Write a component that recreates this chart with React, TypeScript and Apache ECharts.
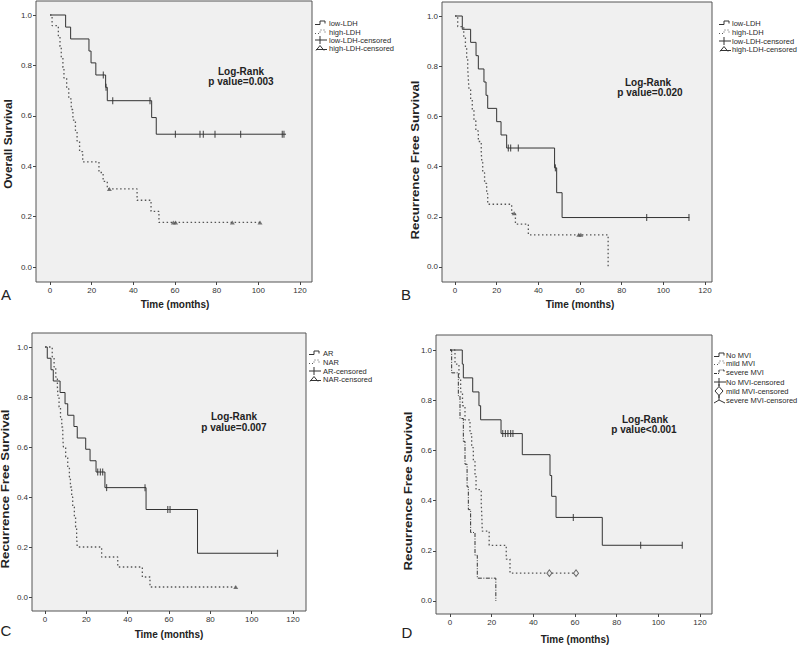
import React, { useEffect, useRef } from 'react';
import * as echarts from 'echarts';

const xTicks = [0, 20, 40, 60, 80, 100, 120];
const yTicks = [0, 0.2, 0.4, 0.6, 0.8, 1.0];

// Panel A – Overall survival by LDH
const aLowTime = [0, 7.5, 9.9, 18.7, 19.7, 22.0, 26.7, 27.5, 48.8, 51.0, 113.3];
const aLowSurv = [1, 0.952, 0.905, 0.857, 0.81, 0.762, 0.713, 0.66, 0.593, 0.527, 0.527];
const aLowCens = [25.6, 26.9, 30.1, 48.0, 60.2, 72.0, 73.6, 79.2, 91.5, 111.5, 112.3];
const aHighTime = [0, 1.0, 4.0, 4.8, 5.4, 6.2, 6.7, 8.0, 9.0, 10.2, 11.0, 12.2, 13.0, 14.2, 15.7, 23.5, 25.5, 27.5, 41.8, 48.5, 52.3, 100.8];
const aHighSurv = [1, 0.958, 0.917, 0.875, 0.833, 0.792, 0.75, 0.708, 0.667, 0.625, 0.583, 0.542, 0.5, 0.458, 0.417, 0.375, 0.34, 0.31, 0.265, 0.221, 0.177, 0.177];
const aHighCens = [28.5, 59.2, 60.3, 87.5, 100.8];

// Panel B – Recurrence free survival by LDH
const bLowTime = [0, 3.5, 7.5, 10.1, 11.2, 13.9, 14.9, 15.7, 20.0, 22.1, 24.8, 47.8, 48.8, 51.4, 112.5];
const bLowSurv = [1, 0.947, 0.895, 0.842, 0.789, 0.737, 0.684, 0.632, 0.579, 0.526, 0.474, 0.395, 0.296, 0.197, 0.197];
const bLowCens = [25.6, 26.7, 30.4, 48.2, 92.0, 112.3];
const bHighTime = [0, 1.3, 4.2, 5.0, 5.6, 6.1, 6.4, 6.7, 7.5, 8.3, 9.1, 10.0, 11.2, 12.6, 12.9, 13.3, 14.2, 15.2, 15.7, 27.2, 29.0, 35.2, 73.5];
const bHighSurv = [1, 0.958, 0.917, 0.875, 0.833, 0.792, 0.75, 0.708, 0.667, 0.625, 0.583, 0.542, 0.5, 0.458, 0.417, 0.375, 0.333, 0.292, 0.25, 0.214, 0.171, 0.128, 0];
const bHighCens = [28.4, 59.4, 60.4];

// Panel C – Recurrence free survival by AR / NAR
const cArTime = [0, 1.1, 2.9, 4.0, 7.3, 9.7, 11.0, 14.0, 15.6, 19.7, 21.8, 24.7, 29.0, 48.9, 73.8, 112.5];
const cArSurv = [1, 0.955, 0.909, 0.864, 0.818, 0.773, 0.727, 0.682, 0.636, 0.591, 0.545, 0.5, 0.4375, 0.35, 0.175, 0.175];
const cArCens = [25.5, 26.8, 27.9, 29.8, 48.4, 59.4, 60.5, 112.5];
const cNarTime = [0, 3.5, 4.4, 5.2, 6.0, 6.3, 6.8, 7.5, 8.1, 8.6, 8.9, 10.0, 11.0, 11.8, 12.3, 12.9, 13.4, 14.2, 14.8, 15.3, 15.6, 27.4, 35.2, 47.1, 50.8, 92.3];
const cNarSurv = [1, 0.96, 0.92, 0.88, 0.84, 0.8, 0.76, 0.72, 0.68, 0.64, 0.6, 0.56, 0.52, 0.48, 0.44, 0.4, 0.36, 0.32, 0.28, 0.24, 0.2, 0.16, 0.12, 0.08, 0.04, 0.04];
const cNarCens = [92.3];

// Panel D – Recurrence free survival by MVI
const dNoTime = [0, 5.9, 6.4, 10.9, 13.9, 14.7, 24.5, 34.7, 48.0, 48.8, 50.9, 73.1, 111.5];
const dNoSurv = [1, 0.944, 0.889, 0.833, 0.778, 0.722, 0.667, 0.583, 0.5, 0.417, 0.333, 0.222, 0.222];
const dNoCens = [25.3, 26.6, 27.8, 29.1, 30.2, 59.2, 91.5, 111.5];
const dMildTime = [0, 2.4, 4.3, 5.1, 6.0, 7.2, 9.6, 10.4, 11.2, 12.0, 12.5, 15.0, 15.3, 15.5, 18.8, 27.0, 28.8, 60.5];
const dMildSurv = [1, 0.944, 0.889, 0.833, 0.778, 0.722, 0.667, 0.611, 0.556, 0.5, 0.444, 0.389, 0.333, 0.278, 0.222, 0.167, 0.111, 0.111];
const dMildCens = [47.7, 60.5];
const dSevTime = [0, 0.8, 4.0, 4.8, 6.4, 7.2, 8.2, 8.8, 9.9, 12.0, 13.1, 22.0];
const dSevSurv = [1, 0.909, 0.818, 0.727, 0.636, 0.545, 0.455, 0.364, 0.273, 0.182, 0.091, 0];

const legendA = ['low-LDH', 'high-LDH', 'low-LDH-censored', 'high-LDH-censored'];
const legendC = ['AR', 'NAR', 'AR-censored', 'NAR-censored'];
const legendD = ['No MVI', 'mild MVI', 'severe MVI', 'No MVI-censored', 'mild MVI-censored', 'severe MVI-censored'];
const pValues = ['p value=0.003', 'p value=0.020', 'p value=0.007', 'p value<0.001'];
const yTitles = ['Overall Survival', 'Recurrence Free Survival', 'Recurrence Free Survival', 'Recurrence Free Survival'];
const letters = ['A', 'B', 'C', 'D'];

const FONT = '"Liberation Sans", Arial, Helvetica, sans-serif';
const DARK = '#333';
const DOT = '#555';

function pairs(t: number[], s: number[]) {
  return t.map((v, i) => [v, s[i]]);
}
function survAt(t: number[], s: number[], x: number) {
  let v = s[0];
  for (let i = 0; i < t.length; i++) if (t[i] <= x) v = s[i];
  return v;
}
function censorPts(t: number[], s: number[], c: number[]) {
  return c.map((x) => [x, survAt(t, s, x)]);
}

const panels = [
  { grid: { left: 36, top: 1, width: 276, height: 281 }, x: [-6.72, 125.76], y: [-0.0595, 1.0556] },
  { grid: { left: 442, top: 2, width: 270, height: 280 }, x: [-6.24, 123.36], y: [-0.0598, 1.0558] },
  { grid: { left: 32, top: 333, width: 274, height: 278 }, x: [-6.29, 126.29], y: [-0.056, 1.056] },
  { grid: { left: 436, top: 335, width: 276, height: 279 }, x: [-6.72, 125.76], y: [-0.0518, 1.0598] },
];

function kmLine(gi: number, t: number[], s: number[], color: string, type: any, width = 1) {
  return {
    type: 'line', xAxisIndex: gi, yAxisIndex: gi, data: pairs(t, s), step: 'end',
    showSymbol: false, symbol: 'none', silent: true,
    lineStyle: { color, width, type },
  };
}
function censors(gi: number, pts: number[][], kind: string) {
  const base: any = { type: 'scatter', xAxisIndex: gi, yAxisIndex: gi, data: pts, silent: true, z: 5 };
  if (kind === 'plus') return { ...base, symbol: 'rect', symbolSize: [1.2, 7], itemStyle: { color: DARK } };
  if (kind === 'tri') return { ...base, symbol: 'triangle', symbolSize: [5, 4], itemStyle: { color: DOT } };
  return { ...base, symbol: 'diamond', symbolSize: [5, 6.5], itemStyle: { color: '#f0f0f0', borderColor: '#444', borderWidth: 1 } };
}

function glyph(kind: string, x0: number, y: number): any[] {
  const st = (dash?: number[]) => ({ stroke: DARK, fill: 'none', lineWidth: 1, lineDash: dash });
  const step = [[x0, y + 1.5], [x0 + 5, y + 1.5], [x0 + 5, y - 2], [x0 + 10, y - 2], [x0 + 10, y + 0.5]];
  if (kind === 'solid') return [{ type: 'polyline', shape: { points: step }, style: st() }];
  if (kind === 'dot') return [{ type: 'polyline', shape: { points: step }, style: { ...st([1, 2]), stroke: DOT } }];
  if (kind === 'dashdot') return [{ type: 'polyline', shape: { points: step }, style: st([3, 1, 1, 1]) }];
  if (kind === 'plus') return [
    { type: 'line', shape: { x1: x0, y1: y, x2: x0 + 12, y2: y }, style: st() },
    { type: 'line', shape: { x1: x0 + 5, y1: y - 4, x2: x0 + 5, y2: y + 4 }, style: st() },
  ];
  if (kind === 'tri') return [
    { type: 'line', shape: { x1: x0 + 1, y1: y + 1.5, x2: x0 + 12, y2: y + 1.5 }, style: st() },
    { type: 'polyline', shape: { points: [[x0 + 1, y + 2.5], [x0 + 5, y - 2.5], [x0 + 9, y + 2.5]] }, style: st() },
  ];
  if (kind === 'diamond') return [
    { type: 'polygon', shape: { points: [[x0 + 5, y - 4.5], [x0 + 9, y], [x0 + 5, y + 4.5], [x0 + 1, y]] }, style: st() },
    { type: 'line', shape: { x1: x0 + 5, y1: y - 7, x2: x0 + 5, y2: y - 4.5 }, style: st() },
    { type: 'line', shape: { x1: x0 + 5, y1: y + 4.5, x2: x0 + 5, y2: y + 7 }, style: st() },
  ];
  // inverted Y
  return [
    { type: 'line', shape: { x1: x0 + 5, y1: y - 5, x2: x0 + 5, y2: y }, style: st() },
    { type: 'polyline', shape: { points: [[x0, y + 3], [x0 + 5, y], [x0 + 11, y + 3]] }, style: st() },
  ];
}

function legend(labels: string[], kinds: string[], x0: number, tx: number, rows: number[]): any[] {
  const out: any[] = [];
  labels.forEach((lab, i) => {
    out.push(...glyph(kinds[i], x0, rows[i]));
    out.push({
      type: 'text', x: tx, y: rows[i],
      style: { text: lab, fill: '#2a2a2a', fontSize: 7.5, fontFamily: FONT, align: 'left', verticalAlign: 'middle' },
    });
  });
  return out;
}

function text(t: string, x: number, y: number, size: number, bold: boolean, extra: any = {}) {
  return {
    type: 'text', x, y, ...extra,
    style: { text: t, fill: '#222', fontSize: size, fontWeight: bold ? 'bold' : 'normal', fontFamily: FONT, align: 'center', verticalAlign: 'middle' },
  };
}

export default function App() {
  const ref = useRef<HTMLDivElement>(null);
  useEffect(() => {
    if (!ref.current) return;
    const chart = echarts.init(ref.current, undefined, { renderer: 'svg' });
    const grids = panels.map((p) => ({
      ...p.grid, show: true, backgroundColor: '#f0f0f0', borderColor: '#555', borderWidth: 1, containLabel: false,
    }));
    const xAxis = panels.map((p, i) => ({
      type: 'value', gridIndex: i, min: p.x[0], max: p.x[1],
      axisLine: { show: false, onZero: false }, splitLine: { show: false },
      axisTick: { show: true, inside: false, customValues: xTicks, length: 3, lineStyle: { color: '#444' } },
      axisLabel: { customValues: xTicks, fontSize: 8, color: DARK, margin: 4, fontFamily: FONT },
    }));
    const yAxis = panels.map((p, i) => ({
      type: 'value', gridIndex: i, min: p.y[0], max: p.y[1],
      axisLine: { show: false, onZero: false }, splitLine: { show: false },
      axisTick: { show: true, inside: false, customValues: yTicks, length: 3, lineStyle: { color: '#444' } },
      axisLabel: { customValues: yTicks, fontSize: 8, color: DARK, margin: 4, fontFamily: FONT, formatter: (v: number) => v.toFixed(1) },
    }));
    const dotted = [1.5, 2.5];
    const series: any[] = [
      kmLine(0, aLowTime, aLowSurv, DARK, 'solid'),
      kmLine(0, aHighTime, aHighSurv, DOT, dotted, 1.3),
      censors(0, censorPts(aLowTime, aLowSurv, aLowCens), 'plus'),
      censors(0, censorPts(aHighTime, aHighSurv, aHighCens), 'tri'),
      kmLine(1, bLowTime, bLowSurv, DARK, 'solid'),
      kmLine(1, bHighTime, bHighSurv, DOT, dotted, 1.3),
      censors(1, censorPts(bLowTime, bLowSurv, bLowCens), 'plus'),
      censors(1, censorPts(bHighTime, bHighSurv, bHighCens), 'tri'),
      kmLine(2, cArTime, cArSurv, DARK, 'solid'),
      kmLine(2, cNarTime, cNarSurv, DOT, dotted, 1.3),
      censors(2, censorPts(cArTime, cArSurv, cArCens), 'plus'),
      censors(2, censorPts(cNarTime, cNarSurv, cNarCens), 'tri'),
      kmLine(3, dNoTime, dNoSurv, DARK, 'solid'),
      kmLine(3, dMildTime, dMildSurv, DOT, dotted, 1.3),
      kmLine(3, dSevTime, dSevSurv, DARK, [4, 1.5, 1, 1.5]),
      censors(3, censorPts(dNoTime, dNoSurv, dNoCens), 'plus'),
      censors(3, censorPts(dMildTime, dMildSurv, dMildCens), 'diamond'),
    ];
    const kinds4 = ['solid', 'dot', 'plus', 'tri'];
    const graphic: any[] = [
      ...legend(legendA, kinds4, 315, 329, [23, 32, 40, 48]),
      ...legend(legendA, kinds4, 719, 732, [23, 32, 41, 49]),
      ...legend(legendC, kinds4, 309, 323, [353, 362, 371, 379]),
      ...legend(legendD, ['solid', 'dot', 'dashdot', 'plus', 'diamond', 'ystem'], 714, 726, [355, 363, 372, 382, 391, 400]),
      text('Log-Rank', 241, 71, 10, true), text(pValues[0], 241, 81, 10, true),
      text('Log-Rank', 648, 82, 10, true), text(pValues[1], 650, 92, 10, true),
      text('Log-Rank', 234, 416, 10, true), text(pValues[2], 234, 427, 10, true),
      text('Log-Rank', 645, 419, 10, true), text(pValues[3], 644, 429, 10, true),
      text('Time (months)', 175, 304, 10, true), text('Time (months)', 580, 304, 10, true),
      text('Time (months)', 169, 634, 10, true), text('Time (months)', 575, 639, 10, true),
      text(yTitles[0], 8, 144, 11, true, { rotation: Math.PI / 2, scaleX: 1.08 }),
      text(yTitles[1], 415, 160, 11, true, { rotation: Math.PI / 2, scaleX: 1.2 }),
      text(yTitles[2], 5, 489, 11, true, { rotation: Math.PI / 2, scaleX: 1.2 }),
      text(yTitles[3], 408, 491, 11, true, { rotation: Math.PI / 2, scaleX: 1.2 }),
      text(letters[0], 6, 294, 15, false), text(letters[1], 406, 294, 15, false),
      text(letters[2], 6, 630, 15, false), text(letters[3], 407, 632, 15, false),
    ];
    chart.setOption({
      animation: false, backgroundColor: '#ffffff',
      grid: grids, xAxis, yAxis, series, graphic,
    });
    return () => chart.dispose();
  }, []);
  return <div ref={ref} style={{ position: 'absolute', left: 0, top: 0, width: 800, height: 645 }} />;
}
